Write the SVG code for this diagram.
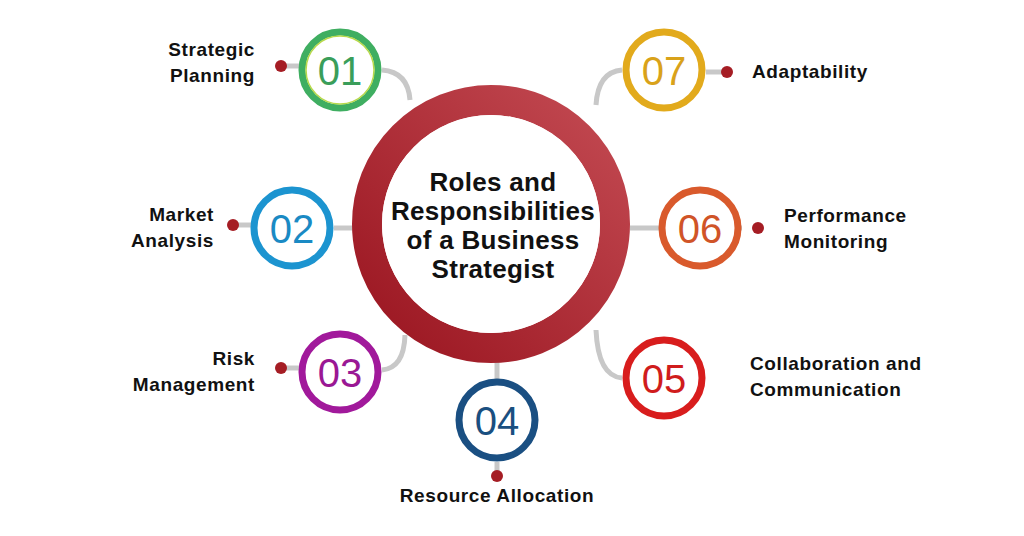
<svg xmlns="http://www.w3.org/2000/svg" width="1024" height="536" viewBox="0 0 1024 536">
<style>
.lbl{font-family:"Liberation Sans",Arial,sans-serif;font-weight:bold;font-size:19px;letter-spacing:0.6px;fill:#111}
.num{font-family:"Liberation Sans",Arial,sans-serif;font-size:40px;text-anchor:middle}
.con{fill:none;stroke:#c8c8c8;stroke-width:5}
.dot{fill:#a51d24}
.in{fill:#fff}
.title{font-family:"Liberation Sans",Arial,sans-serif;font-weight:bold;font-size:26px;letter-spacing:0.3px;fill:#111;text-anchor:middle}
</style>
<defs>
<linearGradient id="rg" x1="0" y1="1" x2="1" y2="0">
<stop offset="0" stop-color="#9a1520"/><stop offset="1" stop-color="#c34a52"/>
</linearGradient>
</defs>
<rect width="1024" height="536" fill="#fff"/>
<g id="connectors">
<path class="con" d="M382 70 Q408 72 410 100"/>
<path class="con" d="M622 70 Q598 72 596 105"/>
<path class="con" d="M334 228 H356"/>
<path class="con" d="M742 228 H630"/>
<path class="con" d="M382 370 Q404 368 405 335"/>
<path class="con" d="M622 378 Q598 376 596 330"/>
<path class="con" d="M497 360 V380"/>
<path class="con" d="M281 66 H300"/>
<path class="con" d="M727 72 H706"/>
<path class="con" d="M233 225 H252"/>
<path class="con" d="M281 368 H300"/>
<path class="con" d="M497 462 V476"/>
<circle class="dot" cx="281" cy="66" r="6"/>
<circle class="dot" cx="727" cy="72" r="6"/>
<circle class="dot" cx="233" cy="225" r="6"/>
<circle class="dot" cx="758" cy="228" r="6"/>
<circle class="dot" cx="281" cy="368" r="6"/>
<circle class="dot" cx="497" cy="476" r="6"/>
</g>
<g id="center">
<circle cx="491" cy="224" r="124" fill="none" stroke="url(#rg)" stroke-width="30"/>
<circle cx="491" cy="224" r="109" fill="#fff"/>
<text class="title" x="493" y="191">Roles and</text>
<text class="title" x="493" y="220">Responsibilities</text>
<text class="title" x="493" y="249">of a Business</text>
<text class="title" x="493" y="278">Strategist</text>
</g>
<g id="n01">
<circle cx="340" cy="70" r="38" class="in" stroke="#3fae61" stroke-width="7"/>
<circle cx="340" cy="70" r="34" fill="none" stroke="#b8d94a" stroke-width="1.5"/>
<text class="num" x="340" y="85" fill="#3a9e5a">01</text>
<text class="lbl" x="255" y="56" text-anchor="end">Strategic</text>
<text class="lbl" x="255" y="82" text-anchor="end">Planning</text>
</g>
<g id="n07">
<circle cx="664" cy="70" r="38" class="in" stroke="#e2aa1c" stroke-width="7"/>
<text class="num" x="664" y="85" fill="#d9a21a">07</text>
<text class="lbl" x="752" y="78">Adaptability</text>
</g>
<g id="n02">
<circle cx="292" cy="228" r="38" class="in" stroke="#1c94d0" stroke-width="7"/>
<text class="num" x="292" y="243" fill="#1a8ac4">02</text>
<text class="lbl" x="214" y="221" text-anchor="end">Market</text>
<text class="lbl" x="214" y="247" text-anchor="end">Analysis</text>
</g>
<g id="n06">
<circle cx="700" cy="228" r="38" class="in" stroke="#d95a2c" stroke-width="7"/>
<text class="num" x="700" y="243" fill="#d05428">06</text>
<text class="lbl" x="784" y="222">Performance</text>
<text class="lbl" x="784" y="248">Monitoring</text>
</g>
<g id="n03">
<circle cx="340" cy="372" r="38" class="in" stroke="#a1199b" stroke-width="7"/>
<text class="num" x="340" y="387" fill="#9a1894">03</text>
<text class="lbl" x="255" y="365" text-anchor="end">Risk</text>
<text class="lbl" x="255" y="391" text-anchor="end">Management</text>
</g>
<g id="n05">
<circle cx="664" cy="378" r="38" class="in" stroke="#d81d1d" stroke-width="7"/>
<text class="num" x="664" y="393" fill="#d01c1c">05</text>
<text class="lbl" x="750" y="370">Collaboration and</text>
<text class="lbl" x="750" y="396">Communication</text>
</g>
<g id="n04">
<circle cx="497" cy="420" r="38" class="in" stroke="#1a4f82" stroke-width="7"/>
<text class="num" x="497" y="435" fill="#1a4f80">04</text>
<text class="lbl" x="497" y="502" text-anchor="middle">Resource Allocation</text>
</g>
</svg>
